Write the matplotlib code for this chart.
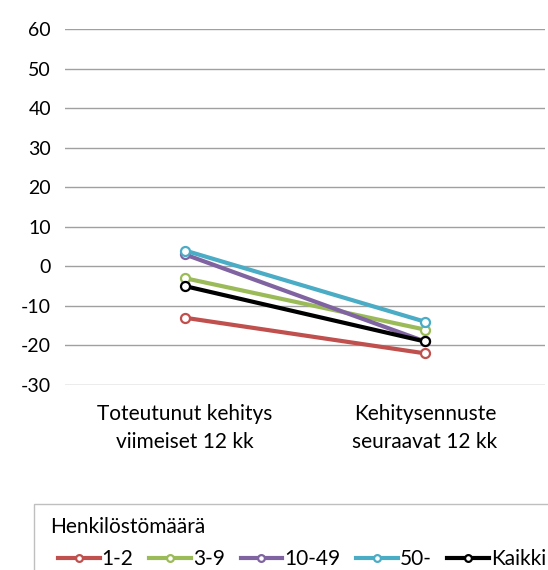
import matplotlib.pyplot as plt
from matplotlib.patches import Rectangle

# data
categories = ['Toteutunut kehitys\nviimeiset 12 kk', 'Kehitysennuste\nseuraavat 12 kk']
series_names = ['1-2', '3-9', '10-49', '50-', 'Kaikki']
v_1_2 = [-13, -22]
v_3_9 = [-3, -16]
v_10_49 = [3, -19]
v_50 = [4, -14]
v_kaikki = [-5, -19]
colors = ['#C0504D', '#9BBB59', '#8064A2', '#4BACC6', '#000000']

plt.rcParams['font.family'] = ['Lato', 'DejaVu Sans']
plt.rcParams['axes.unicode_minus'] = False

fig = plt.figure(figsize=(5.48, 5.70), dpi=100)
ax = fig.add_axes([65 / 548, 1 - 385 / 570, 480 / 548, (385 - 29) / 570])

x = [0, 1]
for vals, name, c in zip([v_1_2, v_3_9, v_10_49, v_50, v_kaikki], series_names, colors):
    ax.plot(x, vals, color=c, lw=3, marker='o', ms=6.5, mfc='white',
            mec=c, mew=1.6, label=name, zorder=3)

ax.set_xlim(-0.5, 1.5)
ax.set_ylim(-30, 60)
ax.set_yticks(range(-30, 61, 10))
ax.set_xticks(x)
ax.set_xticklabels(categories, fontsize=15, linespacing=1.45)
ax.tick_params(axis='y', labelsize=14, length=0, pad=10)
ax.tick_params(axis='x', length=0, pad=14)
ax.grid(axis='y', color='#A0A0A0', lw=1)
ax.set_axisbelow(True)
for s in ax.spines.values():
    s.set_visible(False)

# legend frame, partly cut off by the figure edge like the reference
fig.patches.append(Rectangle((34 / 548, -0.05), 0.99, 1 - 504 / 570 + 0.05,
                             transform=fig.transFigure, fill=False,
                             edgecolor='#BFBFBF', lw=1))
fig.text(50 / 548, 1 - 527 / 570, 'Henkilöstömäärä', fontsize=15, va='center')
handles, labels = ax.get_legend_handles_labels()
fig.legend(handles, labels, ncol=5, frameon=False, fontsize=15,
           loc='center left', bbox_to_anchor=(58 / 548, 1 - 559 / 570),
           borderaxespad=0, borderpad=0,
           handlelength=2.0, handletextpad=0.1, columnspacing=0.75,
           markerscale=0.75)

fig.savefig('out.png', dpi=100)
